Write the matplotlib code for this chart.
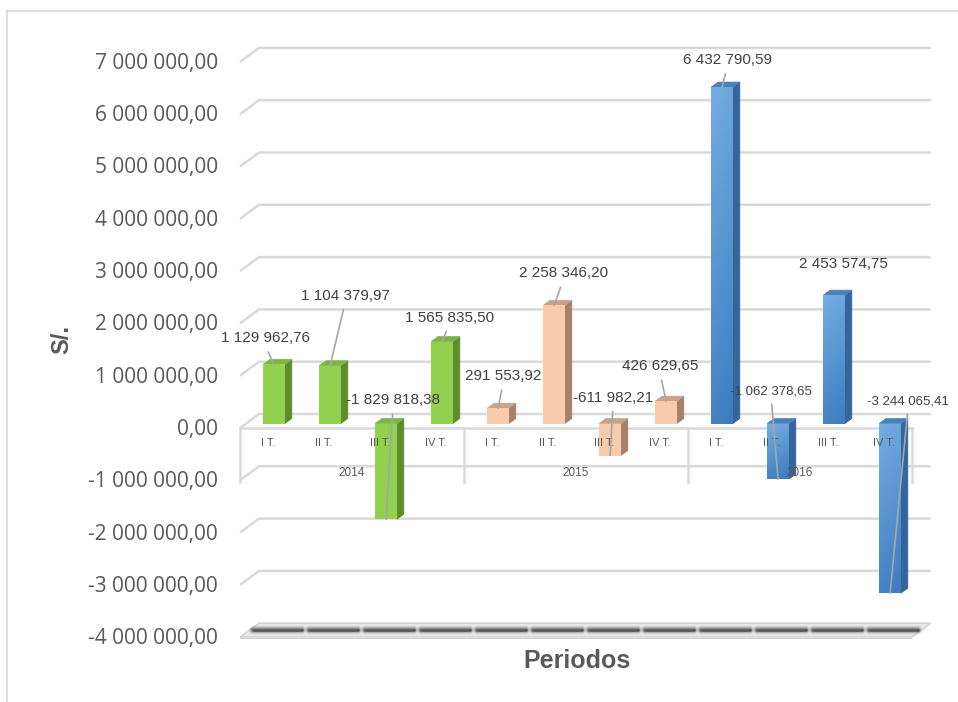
import matplotlib
matplotlib.use("Agg")
import numpy as np
import matplotlib.pyplot as plt
from matplotlib.patches import Polygon, Rectangle
from matplotlib.colors import LinearSegmentedColormap
from matplotlib.lines import Line2D

# ---------------------------------------------------------------- data
years = ["2014", "2015", "2016"]
quarters = ["I T.", "II T.", "III T.", "IV T."]
values_2014 = [1129962.76, 1104379.97, -1829818.38, 1565835.50]
values_2015 = [291553.92, 2258346.20, -611982.21, 426629.65]
values_2016 = [6432790.59, -1062378.65, 2453574.75, -3244065.41]
y_ticks = [7e6, 6e6, 5e6, 4e6, 3e6, 2e6, 1e6, 0.0, -1e6, -2e6, -3e6, -4e6]

series_values = [values_2014, values_2015, values_2016]

# ---------------------------------------------------------------- layout
W_PX, H_PX, DPI = 958, 702, 100
ORIGIN_X, ORIGIN_Y = 268.0, 428.0       # pixel of category 0 / value 0 on the front plane
PX_PER_CAT, PX_PER_M = 56.0, 52.3
DX, DY = 19.0 / PX_PER_CAT, 14.0 / PX_PER_M   # full depth of the 3-D box
D0, D1 = 0.32, 0.68                      # depth span of the columns
BAR_W = 0.39
GRID_C = "#D9D9D9"
TEXT_C = "#595959"
LABEL_C = "#404040"

styles = [
    dict(front="#92D050", side="#5E8C2B", top="#7BB543", grad=None),
    dict(front="#F8CBAD", side="#A7806A", top="#C9A28A", grad=None),
    dict(front="#5B9BD5", side="#33669C", top="#4C80BC", grad=("#74ADE2", "#3E7CC0")),
]

# data label placement: (dx, dy) in pixels from the bar end, font size, leader line
label_offsets = [(-9, 26), (15, 70), (7, 119), (7, 24),
                 (5, 32), (9, 32), (3, 58), (-6, 35),
                 (5, 27), (-7, 88), (9, 31), (18, 192)]
label_sizes = [11, 11, 11, 11, 11, 11, 11, 11, 11, 9.5, 11, 9.5]
label_leader = [True] * 10 + [False, True]


def fmt(v):
    return f"{v:,.2f}".replace(",", " ").replace(".", ",")


def P(i, v, d):
    """Project (category, value in millions, depth) onto the axes."""
    return (i + d * DX, v + d * DY)


fig = plt.figure(figsize=(W_PX / DPI, H_PX / DPI), dpi=DPI)
ax = fig.add_axes([0, 0, 1, 1])
ax.set_axis_off()
xlim = (-ORIGIN_X / PX_PER_CAT, (W_PX - ORIGIN_X) / PX_PER_CAT)
ylim = ((ORIGIN_Y - H_PX) / PX_PER_M, ORIGIN_Y / PX_PER_M)

n_cat = 4 * len(years)
left, right = -0.5, n_cat - 0.5

# chart frame
fig.add_artist(Line2D([7 / W_PX, 7 / W_PX], [0, 1 - 11 / H_PX], transform=fig.transFigure,
                      color=GRID_C, lw=1.2))
fig.add_artist(Line2D([7 / W_PX, 1], [1 - 11 / H_PX, 1 - 11 / H_PX], transform=fig.transFigure,
                      color=GRID_C, lw=1.2))

# back-wall gridlines with their side-wall diagonal
for t in y_ticks:
    v = t / 1e6
    if v <= -4:
        continue
    pts = [P(left, v, 0), P(left, v, 1), P(right, v, 1)]
    ax.plot(*zip(*pts), color=GRID_C, lw=1.8, solid_capstyle="butt", zorder=1)

# floor slab at the bottom of the value range
vmin = min(y_ticks) / 1e6
slab = Polygon([P(left, vmin, 0), P(right, vmin, 0), P(right, vmin, 1), P(left, vmin, 1)],
               closed=True, facecolor="#E8E8E8", edgecolor="#D4D4D4", lw=1.2, zorder=1)
ax.add_patch(slab)
ax.add_patch(Polygon([P(left, vmin, 0), P(right, vmin, 0), P(right, vmin - 0.03, 0),
                      P(left, vmin - 0.03, 0)], closed=True, facecolor="#D8D8D8",
                     edgecolor="none", zorder=1))
# soft column shadows on the floor
for i in range(n_cat):
    a, b = P(i - 0.44, vmin, 0.5), P(i + 0.44, vmin, 0.5)
    for lw, alpha in [(6, 0.12), (4.5, 0.2), (3, 0.35), (1.8, 0.6)]:
        ax.plot([a[0], b[0]], [a[1], b[1]], color="#3A3A3A", lw=lw, alpha=alpha,
                solid_capstyle="round", zorder=1.2)

# category axis line and group dividers
a, b = P(left, 0, 0), P(right, 0, 0)
ax.plot([a[0], b[0]], [a[1], b[1]], color=GRID_C, lw=1.8, zorder=2)
for k in range(len(years) + 1):
    x = left + 4 * k
    a, b = P(x, 0, 0), P(x, -1.03, 0)
    ax.plot([a[0], b[0]], [a[1], b[1]], color=GRID_C, lw=1.8, zorder=2)

# 3-D columns
for g, (vals, st) in enumerate(zip(series_values, styles)):
    for q, val in enumerate(vals):
        i = 4 * g + q
        v = val / 1e6
        lo, hi = min(0.0, v), max(0.0, v)
        xl, xr = i - BAR_W / 2, i + BAR_W / 2
        side = Polygon([P(xr, lo, D0), P(xr, lo, D1), P(xr, hi, D1), P(xr, hi, D0)],
                       closed=True, facecolor=st["side"], edgecolor=st["side"], lw=0.5, zorder=3)
        top = Polygon([P(xl, hi, D0), P(xr, hi, D0), P(xr, hi, D1), P(xl, hi, D1)],
                      closed=True, facecolor=st["top"], edgecolor=st["top"], lw=0.5, zorder=3)
        ax.add_patch(side)
        ax.add_patch(top)
        fx, fy = P(xl, lo, D0)
        front = Rectangle((fx, fy), BAR_W, hi - lo, facecolor=st["front"],
                          edgecolor="none", zorder=3.1)
        ax.add_patch(front)
        if st["grad"] is not None:
            cmap = LinearSegmentedColormap.from_list("col", [st["grad"][1], st["grad"][0]])
            grad = np.linspace(0, 1, 64).reshape(-1, 1) * 0.85 + \
                np.linspace(0.15, 0, 8).reshape(1, -1)
            im = ax.imshow(grad, extent=[fx, fx + BAR_W, fy, fy + hi - lo], origin="lower",
                           cmap=cmap, aspect="auto", zorder=3.2, interpolation="bilinear")
            im.set_clip_path(front)

        # data label with leader line
        anchor = P(i, v, D0)
        dx, dy = label_offsets[i]
        arrow = None
        if label_leader[i]:
            arrow = dict(arrowstyle="-", color="#A6A6A6", lw=1.2, shrinkA=3, shrinkB=0,
                         relpos=(0.5, 0.0))
        ax.annotate(fmt(val), xy=anchor, xytext=(dx, dy), textcoords="offset pixels",
                    ha="center", va="center", fontsize=label_sizes[i],
                    family="Liberation Sans", color=LABEL_C, arrowprops=arrow, zorder=6)

# category and group labels
for g, yr in enumerate(years):
    for q, qt in enumerate(quarters):
        i = 4 * g + q
        ax.text(i, -15 / PX_PER_M, qt, ha="center", va="center", fontsize=8,
                family="Liberation Sans", color=TEXT_C, zorder=5)
    ax.text(4 * g + 1.5, -45 / PX_PER_M, yr, ha="center", va="center", fontsize=8.5,
            family="Liberation Sans", color=TEXT_C, zorder=5)

# value axis labels
for t in y_ticks:
    ax.text(left - 22 / PX_PER_CAT, t / 1e6 - 1.5 / PX_PER_M, fmt(t), ha="right", va="center",
            fontsize=15, family="Open Sans", color=TEXT_C, zorder=5)

fig.text(62 / W_PX, 1 - 340 / H_PX, "S/.", rotation=90, ha="center", va="center",
         fontsize=17, fontweight="bold", family="Liberation Sans", color=TEXT_C)
fig.text(577 / W_PX, 1 - 661 / H_PX, "Periodos", ha="center", va="center",
         fontsize=18, fontweight="bold", family="Liberation Sans", color=TEXT_C)

ax.set_xlim(*xlim)
ax.set_ylim(*ylim)
fig.savefig("out.png", dpi=DPI, facecolor="white")
